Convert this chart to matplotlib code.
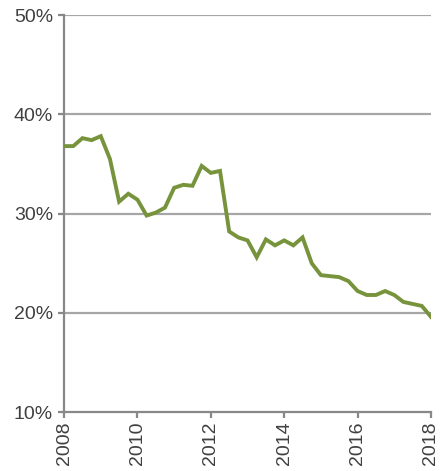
import matplotlib
matplotlib.use("Agg")
import matplotlib.pyplot as plt
import numpy as np

# Quarterly share, 2008 Q1 .. 2018 Q1 (percent)
quarters = np.arange(2008.0, 2018.01, 0.25)
share = [36.8, 36.8, 37.6, 37.4, 37.8, 35.5, 31.2, 32.0, 31.4, 29.8,
         30.1, 30.6, 32.6, 32.9, 32.8, 34.8, 34.1, 34.3, 28.2, 27.6,
         27.3, 25.6, 27.4, 26.8, 27.3, 26.8, 27.6, 25.0, 23.8, 23.7,
         23.6, 23.2, 22.2, 21.8, 21.8, 22.2, 21.8, 21.1, 20.9, 20.7, 19.6]

year_ticks = [2008, 2010, 2012, 2014, 2016, 2018]
pct_ticks = [10, 20, 30, 40, 50]

plt.rcParams['font.family'] = ['Liberation Sans', 'DejaVu Sans']

fig = plt.figure(figsize=(4.42, 4.71), dpi=100)
ax = fig.add_axes([0.145, 0.125, 0.830, 0.843])

grid_col = '#a6a6a6'
spine_col = '#888888'
text_col = '#404040'

for v in pct_ticks[1:]:
    ax.axhline(v, color=grid_col, lw=1.6, zorder=1)

ax.plot(quarters, share, color='#77933C', lw=2.8, zorder=3,
        solid_joinstyle='miter')

ax.set_xlim(2008, 2018)
ax.set_ylim(10, 50)
ax.set_xticks(year_ticks)
ax.set_xticklabels([str(y) for y in year_ticks], rotation=90)
ax.set_yticks(pct_ticks)
ax.set_yticklabels([f"{v}%" for v in pct_ticks])

for side in ['top', 'right']:
    ax.spines[side].set_visible(False)
for side in ['left', 'bottom']:
    ax.spines[side].set_color(spine_col)
    ax.spines[side].set_linewidth(1.6)

ax.tick_params(axis='both', direction='out', length=4, width=1.6,
               color=spine_col, labelcolor=text_col, labelsize=14, pad=3)
ax.tick_params(axis='y', pad=4)

fig.savefig('out.png', dpi=100, facecolor='white')
